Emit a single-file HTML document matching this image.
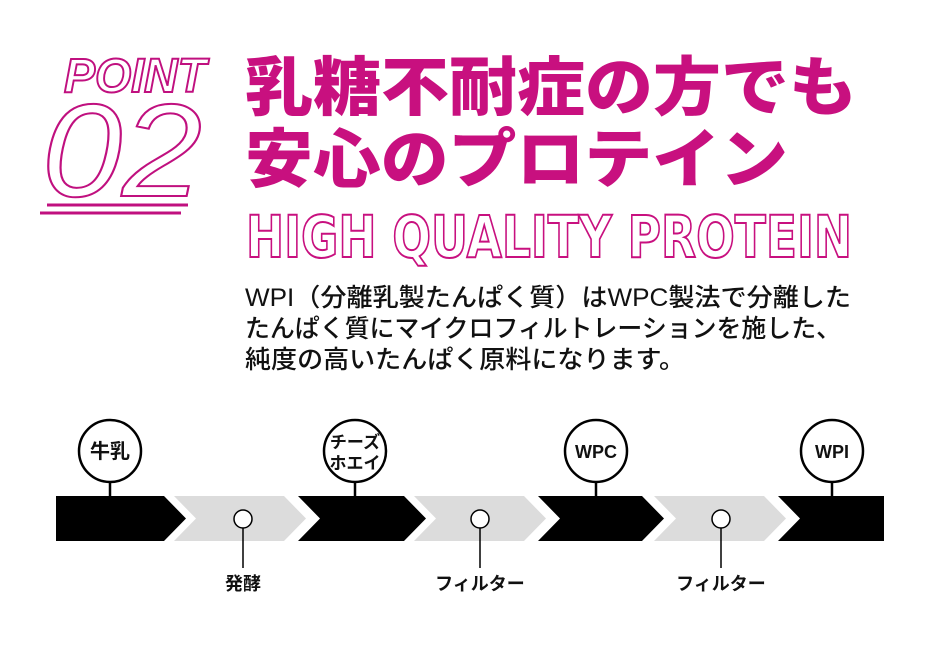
<!DOCTYPE html>
<html><head><meta charset="utf-8"><style>
html,body{margin:0;padding:0;background:#fff;}
svg{display:block;}
</style></head><body>
<svg width="940" height="658" viewBox="0 0 940 658" xmlns="http://www.w3.org/2000/svg">
<g fill="#fff" stroke="#c0107f" stroke-width="2" font-family="Liberation Sans, sans-serif" font-weight="bold" font-style="italic">
<text x="64" y="92" font-size="48" textLength="142" lengthAdjust="spacingAndGlyphs">POINT</text>
<text x="42" y="196" font-size="132" textLength="160" lengthAdjust="spacingAndGlyphs" font-weight="normal">02</text>
</g>
<line x1="47" y1="205" x2="188" y2="205" stroke="#c0107f" stroke-width="3"/>
<line x1="40" y1="213" x2="181" y2="213" stroke="#c0107f" stroke-width="3"/>
<g fill="#c8107f" font-family="Liberation Sans, Noto Sans CJK JP, sans-serif" font-weight="900" font-size="64">
<text x="245" y="110" textLength="612" lengthAdjust="spacingAndGlyphs">乳糖不耐症の方でも</text>
<text x="245" y="182" textLength="543" lengthAdjust="spacingAndGlyphs">安心のプロテイン</text>
</g>
<text x="246" y="257" font-family="DejaVu Sans, sans-serif" font-weight="bold" font-size="58" fill="#fff" stroke="#c8107f" stroke-width="2" textLength="606" lengthAdjust="spacingAndGlyphs">HIGH QUALITY PROTEIN</text>
<g fill="#111" font-family="Liberation Sans, Noto Sans CJK JP, sans-serif" font-weight="500" font-size="25">
<text x="245" y="306" textLength="606" lengthAdjust="spacingAndGlyphs">WPI（分離乳製たんぱく質）はWPC製法で分離した</text>
<text x="245" y="337" textLength="596" lengthAdjust="spacingAndGlyphs">たんぱく質にマイクロフィルトレーションを施した、</text>
<text x="245" y="368" textLength="440" lengthAdjust="spacingAndGlyphs">純度の高いたんぱく原料になります。</text>
</g>
<g>
<polygon points="56,496 164,496 186,518.5 164,541 56,541" fill="#000"/>
<polygon points="174,496 284,496 306,518.5 284,541 174,541 196,518.5" fill="#dcdcdc"/>
<polygon points="298,496 404,496 426,518.5 404,541 298,541 320,518.5" fill="#000"/>
<polygon points="414,496 524,496 546,518.5 524,541 414,541 436,518.5" fill="#dcdcdc"/>
<polygon points="538,496 642,496 664,518.5 642,541 538,541 560,518.5" fill="#000"/>
<polygon points="654,496 764,496 786,518.5 764,541 654,541 676,518.5" fill="#dcdcdc"/>
<polygon points="778,496 884,496 884,541 778,541 800,518.5" fill="#000"/>
</g>
<g stroke="#000" stroke-width="2.5" fill="#fff">
<line x1="110" y1="482" x2="110" y2="496"/><circle cx="110" cy="451" r="31"/>
<line x1="355" y1="482" x2="355" y2="496"/><circle cx="355" cy="451" r="31"/>
<line x1="596" y1="482" x2="596" y2="496"/><circle cx="596" cy="451" r="31"/>
<line x1="832" y1="482" x2="832" y2="496"/><circle cx="832" cy="451" r="31"/>
<line x1="243" y1="528" x2="243" y2="568" stroke-width="1.5"/><circle cx="243" cy="519" r="9" stroke-width="1.5"/>
<line x1="480" y1="528" x2="480" y2="568" stroke-width="1.5"/><circle cx="480" cy="519" r="9" stroke-width="1.5"/>
<line x1="721" y1="528" x2="721" y2="568" stroke-width="1.5"/><circle cx="721" cy="519" r="9" stroke-width="1.5"/>
</g>
<g fill="#111" font-family="Liberation Sans, Noto Sans CJK JP, sans-serif" font-weight="bold" font-size="18" text-anchor="middle">
<text x="110" y="458" font-size="20">牛乳</text>
<text x="355" y="448" font-size="17">チーズ</text>
<text x="355" y="469" font-size="17">ホエイ</text>
<text x="596" y="458">WPC</text>
<text x="832" y="458">WPI</text>
<text x="243" y="590">発酵</text>
<text x="480" y="590">フィルター</text>
<text x="721" y="590">フィルター</text>
</g>
</svg>
</body></html>
